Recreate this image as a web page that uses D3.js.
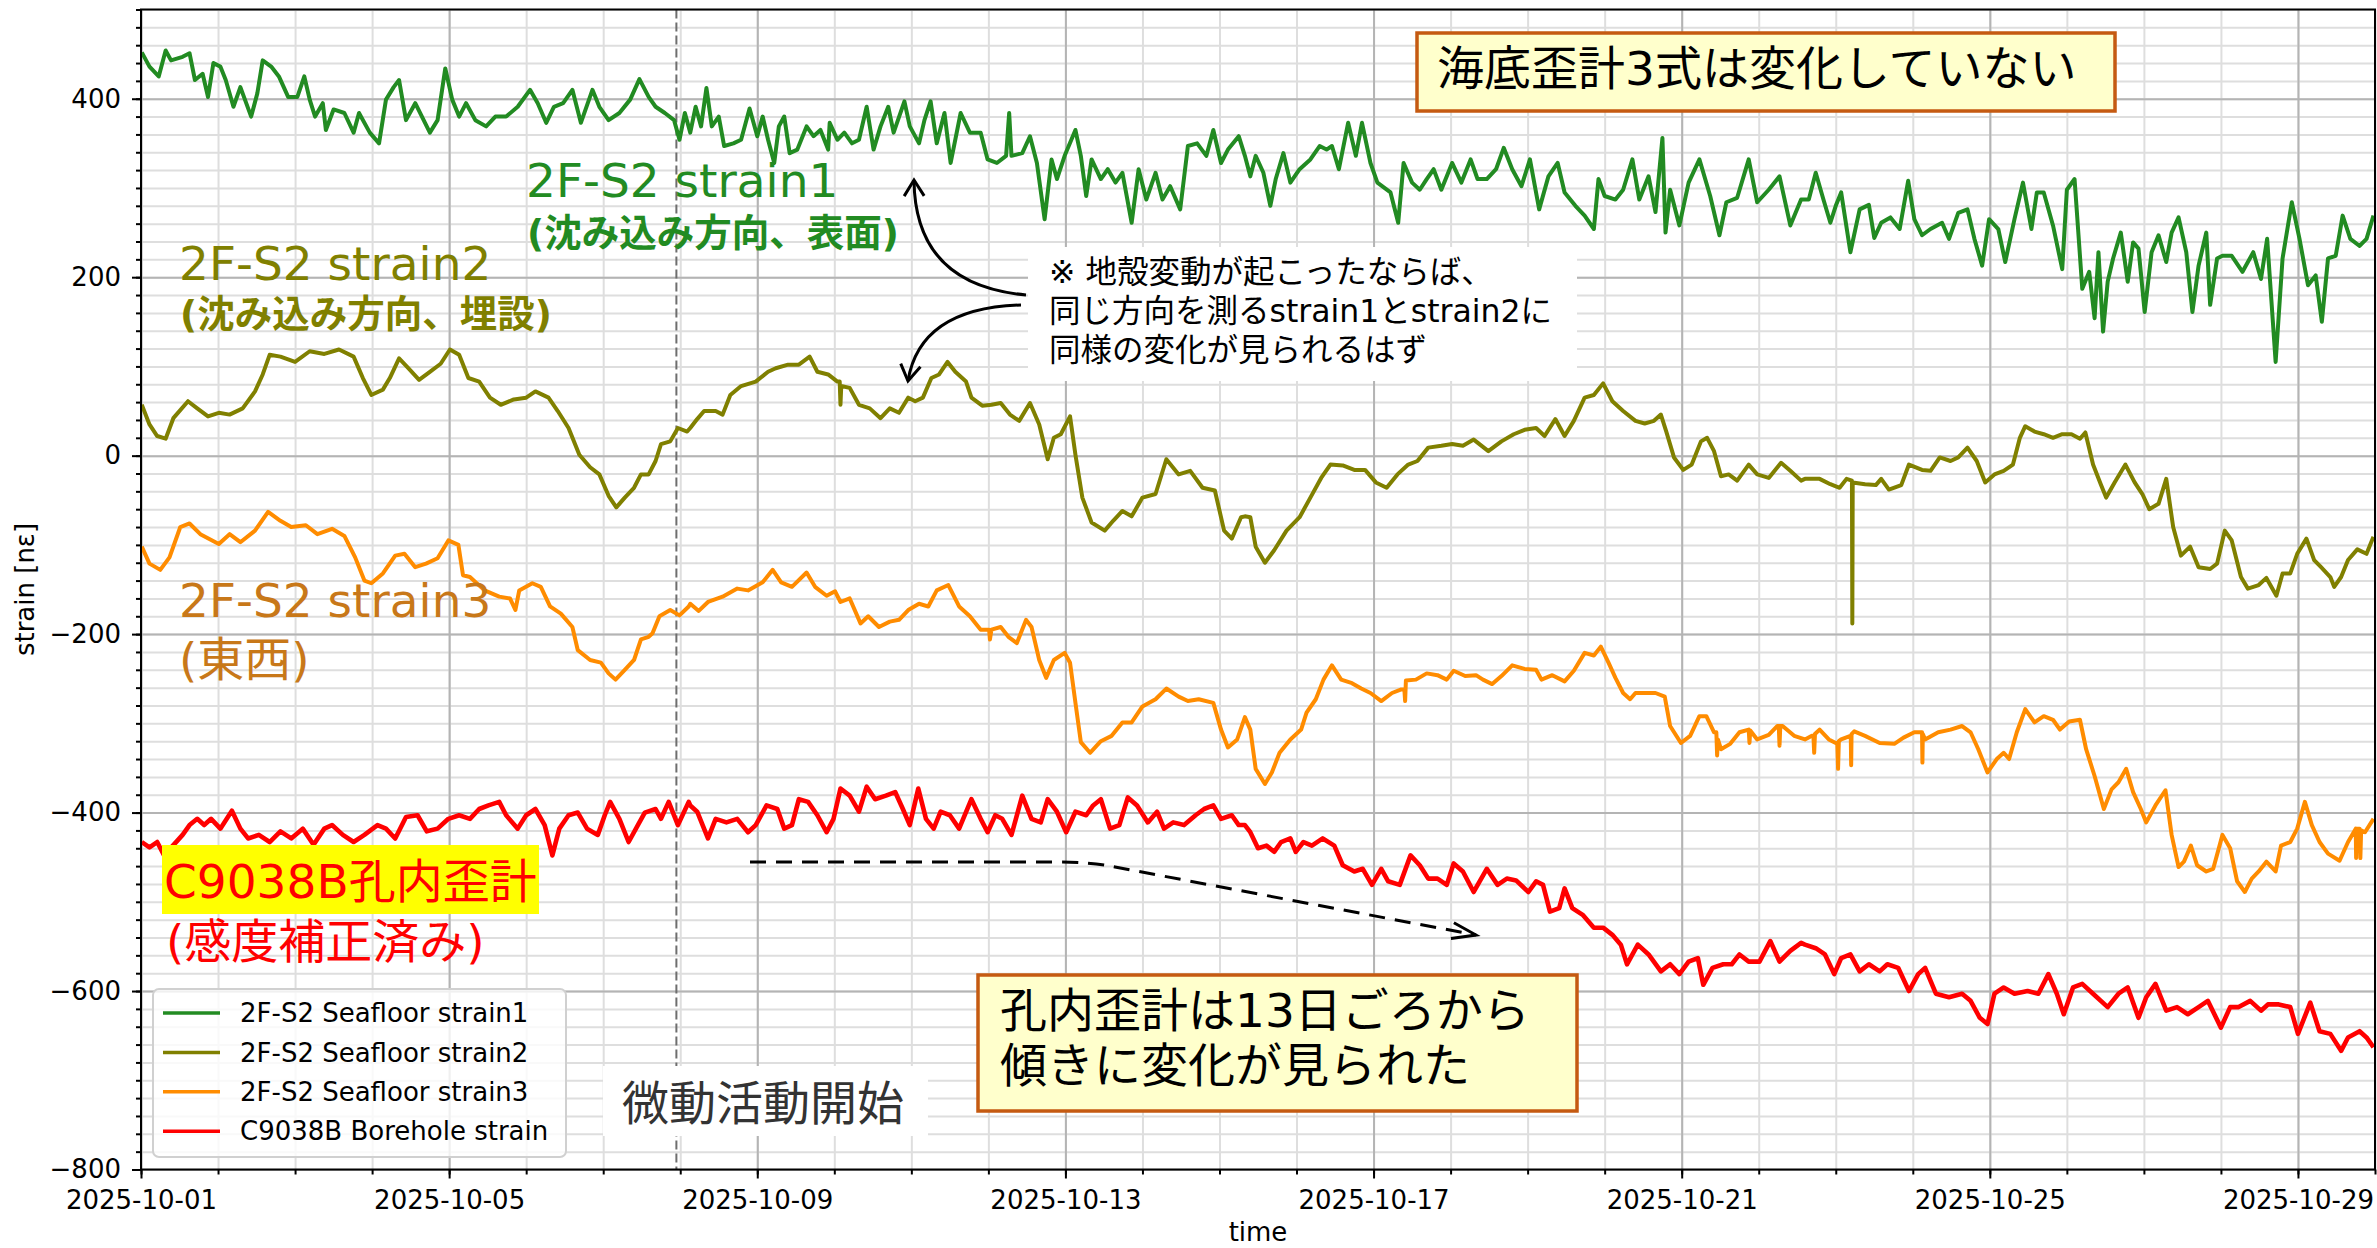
<!DOCTYPE html>
<html>
<head>
<meta charset="utf-8">
<script src="https://cdn.jsdelivr.net/npm/d3@7"></script>
<style>
html, body { margin: 0; padding: 0; background: #fff; }
svg { display: block; }
text { font-family: "DejaVu Sans", "Noto Sans CJK JP", sans-serif; }
</style>
</head>
<body>
<svg width="2377" height="1248"></svg>
<script>
'use strict';

// [days since 2025-10-01 00:00 UTC, strain nε]
var strain1 = [
  [0.01,452],[0.11,436],[0.23,425],[0.32,454],[0.39,443],[0.54,447],[0.63,451],[0.70,421],[0.80,428],[0.87,402],
  [0.94,440],[1.03,436],[1.10,421],[1.20,391],[1.29,413],[1.43,380],[1.51,406],[1.58,443],[1.69,436],[1.79,425],
  [1.91,402],[2.03,402],[2.12,425],[2.19,399],[2.26,380],[2.36,395],[2.40,365],[2.50,388],[2.64,384],[2.76,362],
  [2.83,384],[2.97,362],[3.09,350],[3.18,399],[3.28,413],[3.35,421],[3.44,376],[3.56,395],[3.75,362],[3.85,376],
  [3.95,434],[4.04,399],[4.13,380],[4.22,395],[4.34,376],[4.48,369],[4.60,380],[4.74,380],[4.89,391],[5.05,410],
  [5.15,395],[5.26,373],[5.36,391],[5.48,395],[5.60,410],[5.71,373],[5.86,410],[5.95,391],[6.07,376],[6.21,384],
  [6.35,399],[6.47,422],[6.59,402],[6.68,391],[6.80,384],[6.92,376],[6.99,354],[7.06,384],
  [7.13,362],[7.20,391],[7.27,369],[7.34,412],[7.41,369],[7.50,380],[7.57,347],[7.69,350],[7.79,354],[7.90,389],
  [8.00,358],[8.07,380],[8.14,354],[8.22,328],[8.28,369],[8.35,380],[8.42,339],[8.52,343],[8.64,369],[8.73,358],
  [8.82,365],[8.92,343],[8.94,373],[9.04,354],[9.13,362],[9.23,350],[9.32,354],[9.42,391],[9.51,343],[9.60,369],
  [9.70,391],[9.77,362],[9.91,397],[9.98,369],[10.10,350],[10.17,376],[10.25,397],[10.33,350],[10.43,384],[10.51,328],
  [10.64,384],[10.76,362],[10.90,362],[10.99,332],[11.11,328],[11.23,336],[11.27,384],[11.30,336],[11.44,339],[11.54,358],
  [11.63,328],[11.73,265],[11.82,332],[11.89,310],[11.99,336],[12.13,365],[12.20,336],[12.27,291],[12.34,332],[12.46,310],
  [12.55,321],[12.65,306],[12.74,317],[12.86,261],[12.95,321],[13.05,287],[13.17,317],[13.26,287],[13.36,302],[13.49,276],
  [13.59,347],[13.71,350],[13.83,336],[13.92,365],[14.02,328],[14.11,343],[14.25,358],
  [14.33,336],[14.40,313],[14.47,336],[14.57,317],[14.66,280],[14.73,310],[14.83,339],[14.92,306],[15.04,321],[15.18,332],
  [15.30,347],[15.39,343],[15.46,347],[15.55,321],[15.67,373],[15.77,336],[15.85,373],[15.96,328],[16.05,306],[16.22,295],
  [16.32,261],[16.39,328],[16.50,306],[16.60,298],[16.69,310],[16.78,321],[16.88,298],[17.02,328],[17.14,306],[17.26,332],
  [17.35,310],[17.47,310],[17.59,321],[17.69,345],[17.80,321],[17.92,302],[18.03,332],[18.15,276],[18.27,313],[18.39,328],
  [18.48,295],[18.62,280],[18.74,269],[18.86,254],[18.92,310],[19.00,291],[19.14,287],[19.24,298],[19.36,332],[19.45,287],
  [19.57,313],[19.66,273],[19.75,356],[19.79,250],[19.85,298],[19.97,258],[20.09,306],[20.23,332],[20.37,291],[20.49,247],
  [20.58,284],[20.72,289],[20.87,332],[20.98,284],[21.13,298],[21.27,313],[21.41,258],[21.55,287],
  [21.65,287],[21.74,317],[21.84,287],[21.93,261],[22.00,280],[22.07,295],[22.19,228],[22.31,276],[22.43,281],[22.50,244],
  [22.59,261],[22.71,267],[22.83,254],[22.94,308],[23.02,265],[23.12,247],[23.23,254],[23.38,261],[23.47,243],[23.59,272],
  [23.71,276],[23.80,243],[23.90,213],[23.99,265],[24.11,254],[24.20,217],[24.32,265],[24.43,306],[24.54,254],[24.61,295],
  [24.70,295],[24.82,258],[24.94,209],[25.00,298],[25.10,310],[25.20,187],[25.29,206],[25.36,154],[25.41,228],[25.47,139],
  [25.53,195],[25.60,221],[25.70,250],[25.79,195],[25.86,239],[25.93,232],[26.01,161],[26.10,228],[26.19,247],[26.29,217],
  [26.36,250],[26.45,267],[26.55,228],[26.63,161],[26.71,213],[26.81,250],[26.86,169],[26.95,221],[27.02,224],[27.14,224],
  [27.28,206],[27.42,228],[27.52,198],[27.60,243],[27.71,105],[27.80,221],[27.92,284],[28.02,243],[28.13,191],[28.23,202],
  [28.31,150],[28.39,221],[28.49,224],[28.58,269],[28.68,243],[28.80,235],[28.89,243],[28.98,269]
];

var strain2 = [
  [0.01,57],[0.11,35],[0.21,22],[0.32,19],[0.42,42],[0.61,61],[0.73,53],[0.87,44],[1.01,48],[1.15,46],
  [1.32,53],[1.48,72],[1.58,91],[1.67,113],[1.81,111],[2.00,105],[2.19,117],[2.38,114],[2.57,119],[2.76,111],
  [2.88,87],[2.99,68],[3.14,74],[3.23,87],[3.35,109],[3.47,98],[3.61,85],[3.75,94],[3.89,103],[4.01,119],
  [4.13,113],[4.25,87],[4.39,83],[4.53,65],[4.67,57],[4.84,63],[5.00,65],[5.12,72],[5.29,65],[5.41,50],
  [5.55,31],[5.69,1],[5.83,-13],[5.95,-21],[6.07,-45],[6.17,-58],[6.28,-47],[6.40,-36],[6.49,-21],[6.59,-21],
  [6.68,-6],[6.75,13],[6.87,16],[6.97,31],[7.09,27],
  [7.13,31],[7.22,41],[7.31,50],[7.46,50],[7.55,46],[7.65,68],[7.79,78],[7.98,83],[8.14,94],[8.24,98],
  [8.40,102],[8.54,102],[8.68,111],[8.78,94],[8.92,91],[9.04,83],[9.07,83],[9.08,57],[9.09,78],[9.20,76],
  [9.32,57],[9.46,53],[9.60,42],[9.72,53],[9.84,48],[9.96,65],[10.05,61],[10.15,65],[10.26,87],[10.36,91],
  [10.47,105],[10.57,94],[10.71,83],[10.78,65],[10.92,56],[11.04,57],[11.16,59],[11.28,46],[11.40,39],[11.54,59],
  [11.66,35],[11.77,-4],[11.85,20],[11.94,24],[12.06,44],[12.13,1],[12.22,-47],[12.34,-75],[12.51,-84],[12.62,-73],
  [12.74,-62],[12.86,-68],[13.00,-47],[13.17,-43],[13.31,-4],[13.47,-21],[13.62,-17],[13.78,-36],[13.94,-39],[14.06,-84],
  [14.16,-93],[14.28,-69],
  [14.33,-68],[14.40,-69],[14.47,-102],[14.59,-120],[14.71,-106],[14.87,-84],[15.04,-69],[15.18,-47],[15.32,-25],[15.44,-10],
  [15.60,-11],[15.75,-16],[15.89,-16],[16.03,-30],[16.17,-36],[16.31,-21],[16.45,-10],[16.57,-6],[16.71,9],[16.88,11],
  [17.02,13],[17.16,11],[17.30,18],[17.49,5],[17.66,16],[17.82,24],[17.96,29],[18.11,31],[18.22,22],[18.36,41],
  [18.48,22],[18.60,39],[18.74,65],[18.86,68],[18.98,81],[19.10,61],[19.24,50],[19.40,39],[19.52,36],[19.64,39],
  [19.73,46],[19.80,27],[19.90,-2],[20.02,-16],[20.13,-10],[20.25,16],[20.33,20],[20.42,5],[20.51,-23],[20.61,-21],
  [20.72,-28],[20.87,-10],[20.98,-21],[21.13,-25],[21.29,-8],[21.41,-17],[21.55,-28],
  [21.60,-26],[21.79,-26],[21.93,-32],[22.05,-36],[22.14,-26],[22.21,-28],[22.215,-188],[22.22,-30],[22.38,-32],[22.52,-33],
  [22.59,-26],[22.69,-38],[22.85,-33],[22.95,-10],[23.12,-16],[23.23,-17],[23.35,-2],[23.49,-6],[23.59,-2],[23.71,9],
  [23.83,-6],[23.94,-30],[24.06,-21],[24.18,-17],[24.30,-10],[24.39,20],[24.46,33],[24.58,27],[24.70,24],[24.82,20],
  [24.94,24],[25.06,24],[25.17,19],[25.24,26],[25.34,-10],[25.44,-32],[25.51,-47],[25.62,-30],[25.76,-10],[25.88,-30],
  [25.98,-43],[26.07,-60],[26.19,-54],[26.29,-26],[26.38,-80],[26.48,-112],[26.60,-102],[26.71,-125],[26.86,-127],[26.95,-121],
  [27.05,-84],[27.14,-95],[27.26,-136],[27.35,-149],[27.49,-145],[27.59,-137],[27.72,-157],[27.80,-132],[27.90,-132],[27.99,-110],
  [28.11,-93],[28.21,-117],[28.30,-125],[28.42,-136],[28.47,-147],[28.56,-136],[28.65,-117],[28.77,-105],[28.89,-110],[28.98,-91]
];

var strain3 = [
  [0.01,-102],[0.11,-121],[0.25,-128],[0.37,-114],[0.51,-80],[0.63,-76],[0.77,-88],[1.01,-99],[1.15,-88],[1.29,-97],
  [1.48,-84],[1.65,-63],[1.81,-73],[1.95,-80],[2.14,-78],[2.29,-88],[2.48,-82],[2.64,-90],[2.78,-114],[2.90,-140],
  [2.99,-143],[3.14,-132],[3.30,-112],[3.42,-110],[3.56,-125],[3.70,-121],[3.85,-115],[3.99,-95],[4.12,-100],[4.18,-134],
  [4.27,-136],[4.46,-151],[4.65,-158],[4.79,-160],[4.86,-173],[4.91,-151],[5.08,-143],[5.19,-147],[5.31,-169],[5.45,-177],
  [5.60,-192],[5.67,-218],[5.83,-229],[5.97,-232],[6.07,-244],[6.16,-251],[6.28,-240],[6.40,-229],[6.49,-206],[6.59,-203],
  [6.64,-199],[6.73,-180],[6.87,-173],[6.99,-179],[7.11,-169],
  [7.13,-166],[7.24,-174],[7.36,-164],[7.55,-158],[7.74,-149],[7.88,-151],[8.07,-142],[8.20,-128],[8.31,-142],[8.45,-147],
  [8.64,-131],[8.75,-147],[8.90,-157],[9.01,-152],[9.08,-164],[9.20,-160],[9.34,-188],[9.44,-180],[9.58,-192],[9.72,-186],
  [9.84,-184],[9.96,-173],[10.10,-166],[10.22,-169],[10.33,-151],[10.48,-145],[10.62,-169],[10.76,-180],[10.90,-195],[11.01,-195],
  [11.02,-206],[11.04,-195],[11.16,-192],[11.26,-203],[11.37,-210],[11.49,-184],[11.56,-192],[11.66,-229],[11.75,-249],[11.85,-229],
  [11.99,-221],[12.06,-232],[12.13,-277],[12.20,-321],[12.32,-333],[12.46,-320],[12.60,-314],[12.74,-299],[12.86,-299],[13.00,-281],
  [13.17,-273],[13.31,-261],[13.47,-270],[13.59,-275],[13.73,-273],[13.92,-277],[14.02,-307],[14.11,-327],[14.23,-318],
  [14.33,-293],[14.40,-307],[14.47,-351],[14.59,-368],[14.68,-355],[14.78,-333],[14.92,-318],[15.06,-307],[15.13,-288],[15.25,-273],
  [15.35,-251],[15.46,-235],[15.58,-251],[15.72,-255],[15.84,-261],[15.96,-266],[16.10,-275],[16.24,-266],[16.36,-262],[16.40,-262],
  [16.41,-275],[16.42,-252],[16.55,-251],[16.69,-244],[16.83,-246],[16.95,-251],[17.04,-241],[17.19,-247],[17.33,-246],[17.42,-251],
  [17.54,-256],[17.66,-247],[17.80,-235],[17.96,-239],[18.11,-240],[18.18,-251],[18.32,-246],[18.48,-253],[18.60,-241],[18.74,-221],
  [18.86,-224],[18.95,-214],[19.05,-232],[19.14,-249],[19.24,-266],[19.33,-273],[19.40,-266],[19.52,-266],[19.66,-266],[19.78,-270],
  [19.85,-303],[19.99,-322],[20.11,-314],[20.23,-292],[20.32,-292],[20.42,-310],[20.45,-310],[20.46,-336],[20.47,-318],[20.51,-329],
  [20.63,-323],[20.75,-310],[20.87,-307],[20.88,-322],[20.89,-308],[20.98,-318],[21.13,-313],[21.24,-303],[21.26,-303],[21.27,-325],
  [21.28,-303],[21.31,-303],[21.46,-314],
  [21.60,-318],[21.69,-314],[21.71,-314],[21.72,-333],[21.73,-312],[21.79,-307],[21.91,-318],[22.00,-322],[22.02,-322],[22.03,-351],
  [22.04,-320],[22.07,-318],[22.19,-314],[22.195,-314],[22.20,-347],[22.205,-312],[22.24,-309],[22.38,-314],[22.57,-322],[22.76,-323],
  [22.88,-316],[23.02,-310],[23.12,-310],[23.125,-344],[23.13,-312],[23.16,-318],[23.33,-310],[23.49,-307],[23.64,-303],[23.75,-310],
  [23.85,-329],[23.97,-355],[24.09,-340],[24.18,-333],[24.25,-340],[24.35,-310],[24.46,-284],[24.58,-299],[24.70,-292],[24.82,-296],
  [24.91,-307],[25.03,-298],[25.17,-296],[25.25,-329],[25.36,-359],[25.48,-396],[25.58,-374],[25.67,-366],[25.77,-351],[25.86,-377],
  [25.96,-396],[26.03,-411],[26.15,-392],[26.28,-375],[26.36,-425],[26.45,-461],[26.52,-455],[26.61,-437],[26.69,-459],[26.81,-466],
  [26.90,-463],[27.02,-425],[27.12,-440],[27.21,-477],[27.31,-489],[27.40,-474],[27.49,-466],[27.59,-455],[27.71,-466],[27.78,-437],
  [27.90,-433],[27.99,-418],[28.09,-388],[28.18,-414],[28.28,-433],[28.39,-446],[28.54,-454],[28.65,-433],[28.75,-418],[28.755,-451],
  [28.76,-418],[28.80,-418],[28.81,-451],[28.82,-420],[28.87,-422],[28.98,-407]
];

var borehole = [
  [0.01,-433],[0.11,-439],[0.21,-433],[0.30,-448],[0.54,-425],[0.63,-414],[0.73,-407],[0.82,-414],[0.91,-407],[1.03,-418],
  [1.18,-398],[1.29,-418],[1.39,-429],[1.53,-425],[1.67,-433],[1.81,-421],[1.95,-429],[2.10,-418],[2.24,-436],[2.38,-418],
  [2.48,-414],[2.62,-425],[2.76,-433],[2.90,-425],[3.07,-414],[3.18,-418],[3.30,-429],[3.44,-405],[3.59,-403],[3.71,-421],
  [3.85,-418],[3.99,-407],[4.13,-403],[4.27,-407],[4.39,-396],[4.51,-392],[4.65,-388],[4.74,-403],[4.89,-418],[5.00,-403],
  [5.12,-396],[5.24,-414],[5.34,-448],[5.43,-418],[5.55,-403],[5.67,-400],[5.79,-418],[5.93,-425],[6.02,-403],[6.09,-388],
  [6.21,-407],[6.33,-433],[6.45,-414],[6.54,-400],[6.68,-396],[6.75,-407],[6.85,-388],[6.97,-414],[7.11,-388],
  [7.13,-392],[7.22,-399],[7.36,-429],[7.46,-407],[7.60,-411],[7.74,-407],[7.88,-422],[7.98,-414],[8.12,-392],[8.26,-396],
  [8.35,-418],[8.45,-414],[8.54,-385],[8.66,-388],[8.78,-403],[8.90,-422],[8.99,-407],[9.08,-373],[9.20,-381],[9.32,-399],
  [9.42,-371],[9.53,-385],[9.67,-381],[9.79,-377],[9.89,-396],[9.98,-414],[10.09,-373],[10.19,-407],[10.29,-418],[10.38,-399],
  [10.50,-403],[10.62,-418],[10.78,-385],[10.90,-407],[10.99,-422],[11.09,-403],[11.18,-407],[11.30,-425],[11.44,-381],[11.56,-407],
  [11.68,-411],[11.77,-385],[11.89,-399],[12.01,-422],[12.13,-399],[12.27,-403],[12.36,-392],[12.46,-385],[12.58,-418],[12.70,-414],
  [12.81,-383],[12.93,-392],[13.07,-411],[13.19,-399],[13.28,-418],[13.40,-411],[13.54,-414],[13.69,-403],[13.80,-396],[13.92,-392],
  [14.02,-407],[14.16,-403],[14.25,-414],
  [14.33,-414],[14.40,-422],[14.50,-440],[14.61,-437],[14.71,-444],[14.80,-433],[14.92,-429],[14.99,-444],[15.09,-433],[15.20,-437],
  [15.34,-429],[15.49,-437],[15.60,-459],[15.75,-466],[15.86,-463],[15.98,-481],[16.10,-463],[16.19,-477],[16.34,-481],[16.48,-448],
  [16.60,-459],[16.71,-474],[16.83,-474],[16.95,-481],[17.04,-457],[17.16,-466],[17.30,-489],[17.47,-463],[17.61,-481],[17.73,-474],
  [17.85,-476],[18.01,-489],[18.11,-477],[18.20,-481],[18.29,-511],[18.41,-507],[18.48,-485],[18.58,-507],[18.72,-515],[18.86,-529],
  [18.98,-529],[19.10,-537],[19.21,-548],[19.29,-570],[19.43,-548],[19.57,-559],[19.73,-578],[19.85,-570],[19.97,-581],[20.09,-567],
  [20.21,-563],[20.28,-593],[20.40,-574],[20.54,-570],[20.65,-570],[20.75,-559],[20.87,-567],[21.01,-567],[21.15,-544],[21.27,-567],
  [21.41,-555],[21.55,-546],
  [21.60,-548],[21.74,-552],[21.86,-559],[21.98,-581],[22.07,-563],[22.19,-559],[22.31,-578],[22.43,-570],[22.57,-578],[22.67,-570],
  [22.81,-574],[22.95,-600],[23.07,-581],[23.16,-574],[23.30,-603],[23.47,-607],[23.64,-603],[23.75,-611],[23.87,-630],[23.97,-637],
  [24.06,-603],[24.18,-596],[24.32,-603],[24.49,-600],[24.63,-603],[24.76,-581],[24.87,-603],[24.96,-626],[25.08,-596],[25.20,-592],
  [25.34,-603],[25.53,-618],[25.67,-603],[25.79,-596],[25.93,-630],[26.03,-607],[26.15,-592],[26.29,-622],[26.43,-618],[26.57,-626],
  [26.71,-618],[26.83,-611],[27.00,-641],[27.12,-618],[27.23,-618],[27.38,-611],[27.52,-622],[27.61,-615],[27.75,-615],[27.90,-618],
  [28.00,-648],[28.16,-613],[28.28,-645],[28.42,-648],[28.56,-667],[28.65,-652],[28.80,-645],[28.89,-652],[28.98,-663]
];

var seriesNames = ['2F-S2 Seafloor strain1', '2F-S2 Seafloor strain2', '2F-S2 Seafloor strain3', 'C9038B Borehole strain'];
var xTickLabels = ['2025-10-01', '2025-10-05', '2025-10-09', '2025-10-13', '2025-10-17', '2025-10-21', '2025-10-25', '2025-10-29'];
var yTickValues = [-800, -600, -400, -200, 0, 200, 400];
var tremorStart = 6.95; // 微動活動開始 (days)

var series = [strain1, strain2, strain3, borehole];
var colors = ['#228B22', '#808000', '#FF8C00', '#FF0000'];

var svg = d3.select('svg');
var plotL = 141, plotR = 2375, plotT = 9.5, plotB = 1169.5;

var t0 = Date.UTC(2025, 9, 1);
function toDate(d) { return new Date(t0 + d * 864e5); }
var parseDay = d3.utcParse('%Y-%m-%d');

var x = d3.scaleUtc().domain([toDate(0), toDate(29)]).range([plotL, plotR]);
var y = d3.scaleLinear().domain([-800, 500]).range([plotB, plotT]);

// グリッド
var dayTicks = d3.range(0, 30).map(toDate);
var majorDates = xTickLabels.map(parseDay);
var minorY = d3.range(-800, 501, 20);

function gridStyle(g, color) {
    g.select('.domain').remove();
    g.selectAll('line').attr('stroke', color).attr('stroke-width', 2);
}

svg.append('g')
    .attr('transform', 'translate(0,' + plotB + ')')
    .call(d3.axisBottom(x).tickValues(dayTicks).tickSize(-(plotB - plotT)).tickFormat(''))
    .call(gridStyle, '#dedede');
svg.append('g')
    .attr('transform', 'translate(' + plotL + ',0)')
    .call(d3.axisLeft(y).tickValues(minorY).tickSize(-(plotR - plotL)).tickFormat(''))
    .call(gridStyle, '#dedede');
svg.append('g')
    .attr('transform', 'translate(0,' + plotB + ')')
    .call(d3.axisBottom(x).tickValues(majorDates).tickSize(-(plotB - plotT)).tickFormat(''))
    .call(gridStyle, '#b4b4b4');
svg.append('g')
    .attr('transform', 'translate(' + plotL + ',0)')
    .call(d3.axisLeft(y).tickValues(yTickValues).tickSize(-(plotR - plotL)).tickFormat(''))
    .call(gridStyle, '#b4b4b4');

var defs = svg.append('defs');
defs.append('clipPath').attr('id', 'plot')
    .append('rect').attr('x', plotL).attr('y', plotT).attr('width', plotR - plotL).attr('height', plotB - plotT);

// 微動活動開始の線
svg.append('line')
    .attr('x1', x(toDate(tremorStart))).attr('x2', x(toDate(tremorStart)))
    .attr('y1', plotT).attr('y2', plotB)
    .attr('stroke', '#6e6e6e').attr('stroke-width', 2)
    .attr('stroke-dasharray', '9,4');

// 線
var line = d3.line()
    .x(function (d) { return x(toDate(d[0])); })
    .y(function (d) { return y(d[1]); });

svg.append('g')
    .attr('clip-path', 'url(#plot)')
    .selectAll('path')
    .data(series)
    .enter()
    .append('path')
    .attr('d', line)
    .attr('fill', 'none')
    .attr('stroke', function (d, i) { return colors[i]; })
    .attr('stroke-width', function (d, i) { return i === 3 ? 4.6 : 4; })
    .attr('stroke-linejoin', 'round');

// 軸
var fmtDay = d3.utcFormat('%Y-%m-%d');
var xAxis = svg.append('g')
    .attr('transform', 'translate(0,' + plotB + ')')
    .call(d3.axisBottom(x).tickValues(majorDates).tickFormat(fmtDay).tickSize(9).tickPadding(12));
var xMinor = svg.append('g')
    .attr('transform', 'translate(0,' + plotB + ')')
    .call(d3.axisBottom(x).tickValues(dayTicks).tickFormat('').tickSize(5));
var yAxis = svg.append('g')
    .attr('transform', 'translate(' + plotL + ',0)')
    .call(d3.axisLeft(y).tickValues(yTickValues).tickFormat(d3.format('d')).tickSize(9).tickPadding(11));
var yMinor = svg.append('g')
    .attr('transform', 'translate(' + plotL + ',0)')
    .call(d3.axisLeft(y).tickValues(minorY).tickFormat('').tickSize(5));

[xAxis, xMinor, yAxis, yMinor].forEach(function (g) {
    g.select('.domain').remove();
    g.selectAll('line').attr('stroke', '#000').attr('stroke-width', 2);
    g.selectAll('text').attr('font-size', 26).attr('fill', '#000')
        .attr('font-family', '"DejaVu Sans", sans-serif');
});

svg.append('rect')
    .attr('x', plotL).attr('y', plotT)
    .attr('width', plotR - plotL).attr('height', plotB - plotT)
    .attr('fill', 'none').attr('stroke', '#000').attr('stroke-width', 2);

svg.append('text').text('time')
    .attr('x', (plotL + plotR) / 2).attr('y', 1241)
    .attr('text-anchor', 'middle').attr('font-size', 26);
svg.append('text').text('strain [nε]')
    .attr('transform', 'translate(34,' + (plotT + plotB) / 2 + ') rotate(-90)')
    .attr('text-anchor', 'middle').attr('font-size', 26);

// 系列ラベル
function label(txt, px, py, size, color, weight) {
    return svg.append('text').text(txt)
        .attr('x', px).attr('y', py)
        .attr('font-size', size).attr('fill', color)
        .attr('font-weight', weight || 'normal');
}
label('2F-S2 strain1', 526, 197, 47, '#228B22');
label('(沈み込み方向、表面)', 527, 246, 37.5, '#228B22', 'bold');
label('2F-S2 strain2', 179, 280, 47, '#808000');
label('(沈み込み方向、埋設)', 180, 327, 37.5, '#808000', 'bold');
label('2F-S2 strain3', 179, 617, 47, '#C87819');
label('(東西)', 179, 676, 47, '#C87819');

svg.append('rect').attr('x', 162).attr('y', 845).attr('width', 377).attr('height', 69).attr('fill', '#FFFF00');
label('C9038B孔内歪計', 164, 898, 47, '#FF0000');
label('(感度補正済み)', 166, 958, 47, '#FF0000');

// 注記
svg.append('rect').attr('x', 1028).attr('y', 247).attr('width', 549).attr('height', 134).attr('fill', '#fff');
['※ 地殻変動が起こったならば、', '同じ方向を測るstrain1とstrain2に', '同様の変化が見られるはず']
    .forEach(function (t, i) { label(t, 1049, 283 + i * 39, 31.5, '#000'); });

svg.append('rect').attr('x', 1417).attr('y', 33).attr('width', 698).attr('height', 78)
    .attr('fill', '#FFFFCC').attr('stroke', '#C55A11').attr('stroke-width', 3.5);
label('海底歪計3式は変化していない', 1437, 85, 47, '#000');

svg.append('rect').attr('x', 978).attr('y', 975).attr('width', 599).attr('height', 136)
    .attr('fill', '#FFFFCC').attr('stroke', '#C55A11').attr('stroke-width', 3.5);
label('孔内歪計は13日ごろから', 1000, 1027, 47, '#000');
label('傾きに変化が見られた', 1000, 1082, 47, '#000');

svg.append('rect').attr('x', 603).attr('y', 1066).attr('width', 325).attr('height', 70).attr('fill', '#fff');
label('微動活動開始', 622, 1120, 47, '#333');

// 矢印
defs.append('marker').attr('id', 'head').attr('markerUnits', 'userSpaceOnUse')
    .attr('markerWidth', 40).attr('markerHeight', 40).attr('viewBox', '-20 -20 40 40')
    .attr('refX', 0).attr('refY', 0).attr('orient', 'auto')
    .append('path').attr('d', 'M-16,-10 L0,0 L-16,10')
    .attr('fill', 'none').attr('stroke', '#000').attr('stroke-width', 3);
defs.append('marker').attr('id', 'head2').attr('markerUnits', 'userSpaceOnUse')
    .attr('markerWidth', 50).attr('markerHeight', 40).attr('viewBox', '-30 -20 50 40')
    .attr('refX', 0).attr('refY', 0).attr('orient', 'auto')
    .append('path').attr('d', 'M-24,-8 L0,0 L-24,8')
    .attr('fill', 'none').attr('stroke', '#000').attr('stroke-width', 3);

svg.append('path').attr('d', 'M1026,295 Q915,285 914,180')
    .attr('fill', 'none').attr('stroke', '#000').attr('stroke-width', 3).attr('marker-end', 'url(#head)');
svg.append('path').attr('d', 'M1021,305 Q920,308 908,381')
    .attr('fill', 'none').attr('stroke', '#000').attr('stroke-width', 3).attr('marker-end', 'url(#head)');
svg.append('path').attr('d', 'M750,862 L1060,862 Q1090,862 1115,867 L1476,935')
    .attr('fill', 'none').attr('stroke', '#000').attr('stroke-width', 3)
    .attr('stroke-dasharray', '16,10').attr('marker-end', 'url(#head2)');

// 凡例
var legend = svg.append('g');
legend.append('rect')
    .attr('x', 153).attr('y', 989).attr('width', 413).attr('height', 168).attr('rx', 6)
    .attr('fill', '#fff').attr('fill-opacity', 0.8).attr('stroke', '#d0d0d0').attr('stroke-width', 2);
var rows = legend.selectAll('g').data(seriesNames).enter().append('g')
    .attr('transform', function (d, i) { return 'translate(0,' + (1013 + i * 39.4) + ')'; });
rows.append('line').attr('x1', 163).attr('x2', 220)
    .attr('stroke', function (d, i) { return colors[i]; }).attr('stroke-width', 3.5);
rows.append('text').text(function (d) { return d; })
    .attr('x', 240).attr('dy', '0.35em').attr('font-size', 26).attr('fill', '#000');
</script>
</body>
</html>
